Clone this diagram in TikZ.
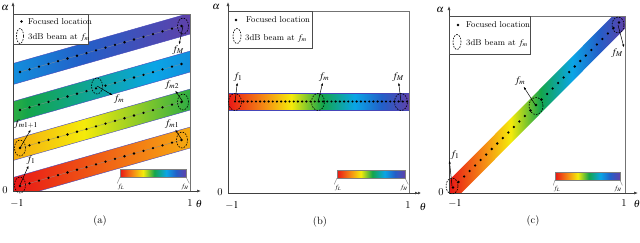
\documentclass[tikz,border=0pt]{standalone}
\usepackage{mathptmx}
\usetikzlibrary{arrows.meta,shapes.geometric}

\definecolor{cRed}{RGB}{232,22,22}
\definecolor{cOrange}{RGB}{245,140,20}
\definecolor{cYellow}{RGB}{245,235,10}
\definecolor{cGreen}{RGB}{20,165,75}
\definecolor{cSky}{RGB}{10,165,230}
\definecolor{cBlue}{RGB}{35,95,200}
\definecolor{cPurple}{RGB}{95,65,170}

% rainbow from f_L to f_H (inner 25bp..75bp is fitted to the path)
\pgfdeclarehorizontalshading{rainbow}{100bp}{color(0bp)=(cRed); color(25bp)=(cRed); color(35bp)=(cOrange); color(42.5bp)=(cYellow); color(51bp)=(cGreen); color(60bp)=(cSky); color(67.5bp)=(cBlue); color(75bp)=(cPurple); color(100bp)=(cPurple)}

\begin{document}
\begin{tikzpicture}[x=1pt,y=-1pt,
  axisline/.style={draw=black!75, line width=0.6pt, -{Latex[length=4pt,width=3pt]}},
  boxline/.style={draw=black!55, line width=0.6pt},
  legbox/.style={draw=black!70, fill=white, line width=0.5pt},
  fdot/.style={fill=black},
  beam/.style={draw=black, line width=0.6pt, dash pattern=on 1.6pt off 1.2pt, ellipse, inner sep=0pt, minimum width=11pt, minimum height=16pt},
  arr/.style={line width=0.5pt, -{Latex[length=3pt,width=2.2pt]}},
  flab/.style={inner sep=1pt, font=\fontsize{10}{12}\selectfont},
  lbl/.style={inner sep=0pt, font=\fontsize{10.5}{12}\selectfont},
  legtext/.style={anchor=west, inner sep=0pt, font=\fontsize{8.5}{10}\selectfont},
  cbar/.style={shading=rainbow, draw=black!50, line width=0.4pt},
  cbtick/.style={draw=black!50, line width=0.4pt},
  cblab/.style={inner sep=0.5pt, font=\fontsize{6.5}{7}\selectfont},
  bandedge/.style={draw=blue!45!gray, line width=0.4pt},
  cline/.style={draw=black!45, line width=0.3pt}]

\useasboundingbox (0,0) rectangle (640,242);

% ================= (a) =================
% bands
\foreach \k in {0,...,3}{
  \pgfmathsetmacro{\yl}{188-38*\k}
  \pgfmathsetmacro{\yr}{\yl-50.4}
  \begin{scope}
    \clip (13,14) rectangle (190,191);
    \begin{scope}
      \clip (13,\yl-10.5) -- (190,\yr-10.5) -- (190,\yr+10.5) -- (13,\yl+10.5) -- cycle;
      \shade[shading=rainbow] ({13-177*\k},0) rectangle ({13+177*(4-\k)},200);
    \end{scope}
    \draw[bandedge] (13,\yl-10.5) -- (190,\yr-10.5);
    \draw[bandedge] (13,\yl+10.5) -- (190,\yr+10.5);
    \draw[cline] (20,\yl-2) -- (181.5,\yl-48);
    \foreach \j in {0,...,17}{
      \fill[fdot] ({20+9.5*\j},{\yl-0.285*(7+9.5*\j)}) circle (1.3);
    }
  \end{scope}
}

% frame and axes
\draw[boxline] (13,191) -- (13,14) -- (190,14) -- (190,191);
\draw[axisline] (13,191) -- (13,2);
\draw[axisline] (13,191) -- (201,191);
\node[lbl] (a_al) at (5,8) {$\alpha$};
\node[lbl] (a_0) at (5,190) {0};
\node[lbl] (a_m1) at (17,203) {$-1$};
\node[lbl] (a_p1) at (190,203) {1};
\node[lbl] (a_th) at (199,204) {$\theta$};
\node[lbl] (a_cap) at (100,221) {(a)};

% legend
\draw[legbox] (13,14) rectangle (88,44);
\fill[fdot] (21.5,21.5) circle (1.3);
\node[legtext] (a_t1) at (28,22) {Focused location};
\node[beam, minimum width=7pt, minimum height=15pt] (a_lb) at (20,36) {};
\node[legtext] (a_t2) at (28,37) {3dB beam at $f_m$};

% beams
\node[beam] (a_b1) at (20,185) {};
\node[beam] (a_b2) at (20,148) {};
\node[beam] (a_b3) at (182,140) {};
\node[beam] (a_b4) at (183,102) {};
\node[beam] (a_b5) at (97,86) {};
\node[beam] (a_b6) at (183,26) {};
\node[flab] (a_f1) at (31,160) {$f_1$};
\node[flab] (a_fm11) at (26,124) {$f_{m1+1}$};
\node[flab] (a_fm1) at (172,124) {$f_{m1}$};
\node[flab] (a_fm2) at (172,85) {$f_{m2}$};
\node[flab] (a_fm) at (119,99) {$f_m$};
\node[flab] (a_fM) at (178,50) {$f_M$};
\draw[arr] (a_b1.center) -- (a_f1);
\draw[arr] (a_b2.center) -- (a_fm11.-50);
\draw[arr] (a_b3.center) -- (a_fm1.-60);
\draw[arr] (a_b4.center) -- (a_fm2.-60);
\draw[arr] (a_b5.center) -- (a_fm);
\draw[arr] (a_b6.center) -- (a_fM);

% colour bar
\shade[cbar] (120,169) rectangle (186,177);
\node[cblab] (a_fL) at (121,187) {$f_L$};
\node[cblab] (a_fH) at (185,187) {$f_H$};
\draw[cbtick] (120,177) -- (a_fL.north west);
\draw[cbtick] (186,177) -- (a_fH.north east);

% ================= (b) =================
\shade[shading=rainbow] (228,93) rectangle (409,110);
\draw[bandedge] (228,93) -- (409,93);
\draw[bandedge] (228,110) -- (409,110);
\foreach \j in {0,...,41}{
  \fill[fdot] ({235+4.195*\j},101.5) circle (1.2);
}

\draw[boxline] (228,193) -- (228,11) -- (409,11) -- (409,193);
\draw[axisline] (228,193) -- (228,2);
\draw[axisline, -{Latex[length=3pt,width=3pt]Latex[length=3pt,width=3pt]}] (228,193) -- (421,193);
\node[lbl] (b_al) at (216,7) {$\alpha$};
\node[lbl] (b_0) at (220,192) {0};
\node[lbl] (b_m1) at (232,205) {$-1$};
\node[lbl] (b_p1) at (408,205) {1};
\node[lbl] (b_th) at (423,207) {$\theta$};
\node[lbl] (b_cap) at (320,222) {(b)};

\draw[legbox] (228,11) rectangle (312,48);
\fill[fdot] (236,20) circle (1.3);
\node[legtext] (b_t1) at (246,20) {Focused location};
\node[beam, minimum width=8pt, minimum height=15pt] (b_lb) at (237,36) {};
\node[legtext] (b_t2) at (245,38) {3dB beam at $f_m$};

\node[beam, minimum width=13pt, minimum height=17pt] (b_b1) at (235,102) {};
\node[beam, minimum width=13pt, minimum height=17pt] (b_b2) at (318,102) {};
\node[beam, minimum width=13pt, minimum height=17pt] (b_b3) at (401,102) {};
\node[flab] (b_f1) at (238,77) {$f_1$};
\node[flab] (b_fm) at (324,77) {$f_m$};
\node[flab] (b_fM) at (398,77) {$f_M$};
\draw[arr] (b_b1.center) -- (b_f1);
\draw[arr] (b_b2.center) -- (b_fm);
\draw[arr] (b_b3.center) -- (b_fM);

\shade[cbar] (337,170) rectangle (405,178);
\node[cblab] (b_fL) at (338,188) {$f_L$};
\node[cblab] (b_fH) at (404,188) {$f_H$};
\draw[cbtick] (337,178) -- (b_fL.north west);
\draw[cbtick] (405,178) -- (b_fH.north east);

% ================= (c) =================
\begin{scope}
  \clip (449,16) rectangle (625,193);
  \clip (449,180.5) -- (625,3.5) -- (625,28.5) -- (449,205.5) -- cycle;
  \shade[shading=rainbow] (449,0) rectangle (625,200);
\end{scope}
\foreach \j in {0,...,30}{
  \fill[fdot] ({453+5.533*\j},{187.5-5.5*\j}) circle (1.3);
}

\draw[boxline] (449,193) -- (449,16) -- (625,16) -- (625,193);
\draw[axisline] (449,193) -- (449,6);
\draw[axisline] (449,193) -- (638,193);
\node[lbl] (c_al) at (440,10) {$\alpha$};
\node[lbl] (c_0) at (441,192) {0};
\node[lbl] (c_m1) at (455,203) {$-1$};
\node[lbl] (c_p1) at (624,203) {1};
\node[lbl] (c_th) at (637,204) {$\theta$};
\node[lbl] (c_cap) at (533,221) {(c)};

\draw[legbox] (449,16) rectangle (530,54);
\fill[fdot] (458,25) circle (1.3);
\node[legtext] (c_t1) at (466,25) {Focused location};
\node[beam, minimum width=8pt, minimum height=15pt] (c_lb) at (457,42) {};
\node[legtext] (c_t2) at (466,43) {3dB beam at $f_m$};

\node[beam, minimum width=12pt, minimum height=16pt] (c_b1) at (452,186) {};
\node[beam, minimum width=14pt, minimum height=17pt] (c_b2) at (536,106) {};
\node[beam, minimum width=12pt, minimum height=16pt] (c_b3) at (618,25) {};
\node[flab] (c_f1) at (455,155) {$f_1$};
\node[flab] (c_fm) at (520,81) {$f_m$};
\node[flab] (c_fM) at (617,53) {$f_M$};
\draw[arr] (c_b1.center) -- (c_f1.south west);
\draw[arr] (c_b2.center) -- (c_fm);
\draw[arr] (c_b3.center) -- (c_fM.north east);

\shade[cbar] (555,172) rectangle (620,180);
\node[cblab] (c_fL) at (557,189) {$f_L$};
\node[cblab] (c_fH) at (618,189) {$f_H$};
\draw[cbtick] (555,180) -- (c_fL.north west);
\draw[cbtick] (620,180) -- (c_fH.north east);

\end{tikzpicture}
\end{document}
